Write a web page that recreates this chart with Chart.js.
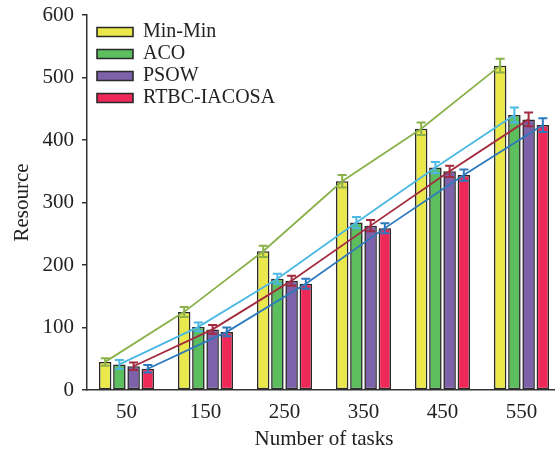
<!DOCTYPE html>
<html>
<head>
<meta charset="utf-8">
<script src="https://cdn.jsdelivr.net/npm/chart.js@4.4.1/dist/chart.umd.min.js"></script>
<style>
  html, body { margin: 0; padding: 0; background: #fff; overflow: hidden; }
  #wrap { width: 566px; height: 452px; }
</style>
</head>
<body>
<div id="wrap"><canvas id="resourceChart"></canvas></div>
<script>
// number of tasks on the x axis
const taskCounts = ['50', '150', '250', '350', '450', '550'];

// resource values
const minMinValues = [45, 125, 222, 334, 418, 519];
const acoValues = [41, 101, 178, 268, 356, 440];
const psowValues = [38, 97, 175, 263, 350, 433];
const rtbcValues = [34, 93, 170, 259, 344, 424];

// error bar half lengths
const minMinErrors = [6, 8, 9, 10, 10, 11];
const acoErrors = [7, 7, 8, 9, 9, 12];
const psowErrors = [6, 7, 8, 9, 9, 11];
const rtbcErrors = [6, 7, 8, 8, 9, 11];

const yTicks = [0, 100, 200, 300, 400, 500, 600];

const seriesNames = ['Min-Min', 'ACO', 'PSOW', 'RTBC-IACOSA'];
const barColors = ['#EAE84B', '#5DBE5E', '#7D62AB', '#EE2857'];
const trendColors = ['#8BB14B', '#4CB8E4', '#A32A3F', '#2C79BD'];
const seriesValues = [minMinValues, acoValues, psowValues, rtbcValues];
const seriesErrors = [minMinErrors, acoErrors, psowErrors, rtbcErrors];

const serif = "'Liberation Serif', 'Times New Roman', serif";

// draws the trend lines and error bars on top of the bars
const errorBarPlugin = {
  id: 'errorBars',
  afterDatasetsDraw(chart) {
    const ctx = chart.ctx;
    const yScale = chart.scales.y;
    ctx.save();
    // trend lines through the bar tops
    seriesValues.forEach((values, i) => {
      const meta = chart.getDatasetMeta(i);
      ctx.strokeStyle = trendColors[i];
      ctx.lineWidth = 1.8;
      ctx.beginPath();
      values.forEach((v, j) => {
        const x = meta.data[j].x;
        const y = yScale.getPixelForValue(v);
        if (j === 0) ctx.moveTo(x, y); else ctx.lineTo(x, y);
      });
      ctx.stroke();
    });
    // error bars
    seriesValues.forEach((values, i) => {
      const meta = chart.getDatasetMeta(i);
      ctx.strokeStyle = trendColors[i];
      ctx.lineWidth = 2;
      values.forEach((v, j) => {
        const x = meta.data[j].x;
        const top = yScale.getPixelForValue(v + seriesErrors[i][j]);
        const bottom = yScale.getPixelForValue(v - seriesErrors[i][j]);
        ctx.beginPath();
        ctx.moveTo(x, top); ctx.lineTo(x, bottom);
        ctx.moveTo(x - 4.5, top); ctx.lineTo(x + 4.5, top);
        ctx.moveTo(x - 4.5, bottom); ctx.lineTo(x + 4.5, bottom);
        ctx.stroke();
      });
    });
    ctx.restore();
  }
};

// nudge the legend block into place inside the plot
const legendShift = {
  id: 'legendShift',
  afterLayout(chart) {
    chart.legend.left += 8;
    chart.legend.top = chart.chartArea.top + 5;
  }
};

const ctx = document.getElementById('resourceChart').getContext('2d');
new Chart(ctx, {
  type: 'bar',
  data: {
    labels: taskCounts,
    datasets: seriesNames.map((name, i) => ({
      label: name,
      data: seriesValues[i],
      backgroundColor: barColors[i],
      borderColor: '#2a2a2a',
      borderWidth: 1.6,
      borderSkipped: false,
      categoryPercentage: 0.72,
      barPercentage: 0.88
    }))
  },
  options: {
    responsive: true,
    maintainAspectRatio: false,
    animation: false,
    layout: { padding: { top: 15, right: 5, left: 0, bottom: 0 } },
    plugins: {
      legend: {
        position: 'chartArea',
        align: 'start',
        labels: {
          boxWidth: 36,
          boxHeight: 9,
          padding: 2,
          color: '#222',
          font: { family: serif, size: 20 }
        }
      },
      tooltip: { enabled: false }
    },
    scales: {
      x: {
        grid: { drawOnChartArea: false, drawTicks: false },
        border: { color: '#333', width: 1.5 },
        ticks: { color: '#222', padding: 10, font: { family: serif, size: 21 } },
        title: {
          display: true,
          text: 'Number of tasks',
          color: '#222',
          padding: { top: 0, bottom: 0 },
          font: { family: serif, size: 21 }
        },
        afterFit(scale) { scale.height = 62; }
      },
      y: {
        min: 0,
        max: 600,
        afterBuildTicks(scale) { scale.ticks = yTicks.map(v => ({ value: v })); },
        grid: { drawOnChartArea: false, drawTicks: true, tickLength: 5, color: '#333', lineWidth: 1.5 },
        border: { color: '#333', width: 1.5 },
        ticks: { color: '#222', padding: 8, font: { family: serif, size: 21 } },
        title: {
          display: true,
          text: 'Resource',
          color: '#222',
          padding: { top: 10, bottom: 0 },
          font: { family: serif, size: 21 }
        },
        afterFit(scale) {
          scale.width = 87;
          scale.paddingTop = 0;
          scale.paddingBottom = 0;
        }
      }
    }
  },
  plugins: [errorBarPlugin, legendShift]
});
</script>
</body>
</html>
